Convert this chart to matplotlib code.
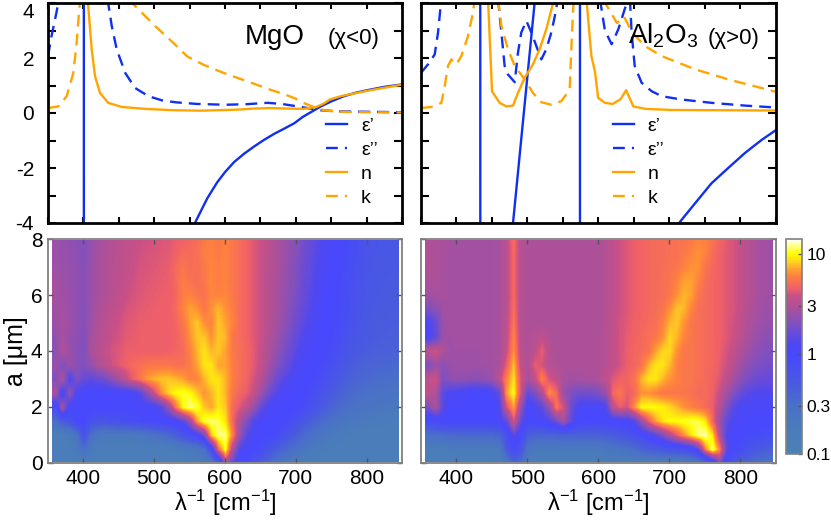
import numpy as np
import matplotlib
matplotlib.use('Agg')
import matplotlib.pyplot as plt
from matplotlib.colors import LinearSegmentedColormap, Normalize
from matplotlib.patches import Rectangle

plt.rcParams['font.family'] = ['Liberation Sans', 'DejaVu Sans']
plt.rcParams['mathtext.fontset'] = 'custom'
plt.rcParams['mathtext.rm'] = 'Liberation Sans'
plt.rcParams['mathtext.it'] = 'Liberation Sans:italic'
plt.rcParams['mathtext.bf'] = 'Liberation Sans:bold'

# ---------------- top panels: optical constants ----------------
mgo_eps1_x = [350, 400.3, 401.0, 450, 520, 558.5, 575, 589, 600, 613, 627, 641, 655, 670, 685, 698, 710, 722, 736, 750, 767, 785, 805, 825, 850]
mgo_eps1_y = [12, 120, -120, -20, -6.5, -3.95, -3.1, -2.52, -2.15, -1.78, -1.48, -1.22, -0.98, -0.75, -0.55, -0.37, -0.14, 0.04, 0.25, 0.42, 0.6, 0.74, 0.85, 0.95, 1.04]
mgo_eps2_x = [350, 355, 362, 365.5, 368, 400, 432, 435, 440, 447, 459, 473, 492, 511, 530, 560, 600, 630, 660, 680, 700, 712, 735, 760, 781, 850]
mgo_eps2_y = [2.07, 2.8, 3.66, 4.15, 5.5, 100, 5, 4.0, 3.17, 2.32, 1.46, 0.91, 0.61, 0.46, 0.39, 0.33, 0.30, 0.32, 0.37, 0.33, 0.25, 0.2, 0.1, 0.06, 0.05, 0.03]
mgo_n_x = [350, 390, 398, 402, 406, 411.7, 416.4, 423.4, 435, 454, 487, 529, 566, 616, 640, 663, 690, 711, 729, 740, 748, 765, 786, 810, 830, 850]
mgo_n_y = [5.6, 8, 15, 15, 4.15, 2.32, 1.34, 0.73, 0.37, 0.22, 0.15, 0.1, 0.085, 0.12, 0.16, 0.18, 0.16, 0.15, 0.22, 0.35, 0.49, 0.62, 0.73, 0.85, 0.94, 1.03]
mgo_k_x = [350, 364.6, 376.4, 385.8, 390.5, 393.8, 396, 400, 430, 463.4, 482, 501, 526.6, 547, 570, 589, 602, 637, 663.5, 684, 700, 710.6, 720, 729, 740, 754, 780, 850]
mgo_k_y = [0.18, 0.24, 0.61, 1.46, 2.56, 3.66, 4.3, 15, 10, 4.15, 3.66, 3.17, 2.56, 2.05, 1.75, 1.55, 1.42, 1.1, 0.85, 0.68, 0.52, 0.37, 0.27, 0.18, 0.1, 0.06, 0.03, 0.02]

al_eps1_x = [350, 432.5, 434.5, 460, 472, 479.6, 510, 518, 545, 573.3, 574.5, 650, 700, 714.7, 735.8, 759, 782.7, 806, 829.7, 850]
al_eps1_y = [20, 150, -150, -20, -6.1, -4.0, 4.0, 6.1, 20, 150, -150, -15, -5.5, -3.96, -3.29, -2.56, -2.0, -1.46, -0.98, -0.62]
al_eps2_x = [350, 359.9, 369.3, 374, 377.7, 380, 420, 455, 458.5, 463.2, 467.8, 472.5, 482, 486.6, 491.3, 498.4, 505.4, 512.4, 519.5, 526.5, 533.6, 540.6, 545, 575, 600, 602, 609, 618.5, 628, 637, 642, 643, 644.3, 646.6, 651, 660.7, 675, 689, 717, 759, 806, 850]
al_eps2_y = [1.46, 1.77, 2.13, 2.93, 3.9, 5, 30, 5, 4.15, 2.93, 1.71, 1.40, 1.12, 2.2, 2.93, 3.35, 2.93, 2.44, 1.95, 2.32, 2.93, 3.78, 5, 30, 5, 4.15, 3.0, 2.5, 3.05, 3.78, 4.15, 4.8, 4.15, 2.93, 1.71, 1.10, 0.79, 0.61, 0.49, 0.37, 0.27, 0.2]
al_n_x = [350, 440, 444.4, 450, 460.8, 470.2, 479.6, 486.6, 496, 507.7, 517.1, 526.5, 536, 540, 580, 583, 590, 595, 599.5, 609, 620, 631, 639, 649, 666, 703, 850]
al_n_y = [6, 10, 4.15, 0.79, 0.37, 0.24, 0.27, 0.73, 1.28, 1.77, 2.32, 3.05, 4.0, 5, 5, 4.15, 2.07, 1.5, 0.55, 0.37, 0.33, 0.5, 0.83, 0.24, 0.15, 0.11, 0.09]
al_k_x = [350, 364.6, 378.7, 383.4, 388, 392.7, 399.8, 406.8, 416.2, 423.3, 425.6, 428, 455, 458.5, 463.2, 472.5, 482, 496, 507.7, 519.5, 533.6, 547.6, 559.4, 561.7, 564, 565.5, 568, 603, 606, 626, 636, 647, 665, 689, 736, 783, 850]
al_k_y = [0.18, 0.22, 0.37, 0.98, 1.71, 1.95, 1.77, 2.07, 2.8, 3.66, 4.15, 5, 5, 4.15, 3.17, 2.32, 1.71, 1.22, 0.73, 0.39, 0.3, 0.43, 0.85, 2.32, 3.66, 4.15, 5, 5, 4.15, 3.27, 3.5, 2.95, 2.44, 2.07, 1.59, 1.22, 0.77]

legend_labels = ['ε’', 'ε’’', 'n', 'k']

# ---------------- bottom panels: map values ----------------
# columns: wavenumber 360..840 step 10 ; rows: a = 0..8 step 0.5
map_x = list(range(360, 841, 10))
map_a = [i * 0.5 for i in range(17)]

mgo_map = [
 [.15,.15,.15,.15,.15,.15,.15,.15,.15,.15, .15,.15,.15,.15,.15,.15,.15,.15,.15,.15, .15,.17,.2,.4,2.5,1.5,.9,.8,.6,.45, .35,.28,.22,.18,.16,.15,.15,.15,.15,.15, .15,.15,.15,.15,.15,.15,.15,.15,.15],
 [.15,.15,.15,.2,.3,.2,.15,.15,.15,.15, .15,.15,.15,.15,.15,.15,.16,.17,.18,.2, .22,.3,.8,5,11,3,1.3,1.1,1.0,.8, .6,.48,.4,.33,.28,.24,.2,.18,.17,.16, .15,.15,.15,.15,.15,.15,.15,.15,.15],
 [.15,.16,.18,.25,.7,.3,.22,.2,.2,.2, .2,.2,.22,.24,.27,.3,.35,.45,.6,.8, 1.0,1.8,8,12,12,6,2.5,1.4,1.1,1.0, 1.0,.9,.7,.55,.45,.35,.3,.25,.22,.2, .18,.17,.16,.15,.15,.15,.15,.15,.15],
 [.3,.5,.6,1.0,1.0,.7,.6,.6,.65,.7, .75,.8,.85,.9,.95,1.0,1.0,1.1,1.4,2.5, 7,11,12,11,9,5,3,2,1.3,1.1, 1.0,1.0,.95,.85,.7,.55,.45,.38,.32,.28, .25,.23,.21,.2,.19,.18,.17,.17,.16],
 [.8,3,1.0,.9,1.0,1.0,1.0,1.0,1.0,1.0, 1.0,1.0,1.0,1.05,1.1,1.4,2.5,5.5,10,12, 11,8,7,9,8,5,4.2,3.5,2.5,1.6, 1.2,1.05,1.0,1.0,.95,.85,.7,.58,.48,.4, .35,.31,.28,.26,.25,.24,.23,.22,.21],
 [3,1.0,2.5,1.2,1.0,1.0,1.0,1.0,1.0,1.0, 1.05,1.1,1.4,2.3,3.8,6.5,8.5,10,10.5,10, 8,6.5,7.5,9,7.5,5.5,4.8,4.4,3.6,2.6, 1.8,1.4,1.15,1.05,1.0,.95,.85,.72,.6,.5, .43,.38,.34,.31,.29,.28,.27,.26,.25],
 [2,3,1.2,2,1.6,1.5,1.6,1.8,2.2,2.8, 3.6,4.5,5.5,6.8,7.5,8,8,7.5,7,6, 6,7.5,9,9,7.5,5.8,5.2,4.7,4.0,3.2, 2.4,1.8,1.45,1.25,1.1,1.0,.95,.85,.72,.6, .52,.46,.41,.38,.36,.34,.33,.32,.31],
 [2.5,2,2.5,2.2,2,2.4,2.9,3.4,3.9,4.3, 4.6,5,5.2,5.5,5.5,5.5,5.5,5.3,5.3,5.8, 7,9,9,7,7,5.8,5.2,4.8,4.3,3.6, 2.8,2.2,1.8,1.5,1.25,1.1,1.0,.95,.85,.72, .62,.54,.48,.44,.41,.39,.38,.37,.36],
 [2.2,3,2.5,2.2,2,2.8,3.2,3.6,4,4.2, 4.5,4.5,4.5,4.5,4.5,4.5,4.6,4.8,5,6, 7.5,9,7.5,8,7,5.6,5.2,4.8,4.3,3.7, 3,2.5,2,1.7,1.4,1.2,1.1,1.0,.95,.85, .72,.62,.55,.5,.47,.45,.44,.43,.42],
 [2.3,2.8,2.4,2.2,2.05,2.7,3.1,3.4,3.8,4, 4.3,4.4,4.5,4.5,4.5,4.5,4.5,4.7,5.2,6.5, 8,8,6.5,8,7.5,5.5,5.1,4.7,4.2,3.8, 3.1,2.7,2.2,1.85,1.55,1.3,1.15,1.05,1.0,.9, .78,.68,.6,.55,.51,.49,.47,.46,.45],
 [2.5,2.8,2.5,2.3,2.1,2.6,3,3.3,3.6,3.9, 4.2,4.3,4.5,4.5,4.5,4.5,4.5,4.8,5.5,7, 8,6.5,6,8,7,6,5.1,4.7,4.2,3.8, 3.2,2.8,2.4,2,1.7,1.45,1.25,1.1,1.0,.95, .85,.75,.65,.58,.53,.5,.49,.48,.47],
 [2.6,2.7,2.5,2.3,2.1,2.5,2.9,3.2,3.4,3.7, 4,4.2,4.3,4.4,4.5,4.5,4.5,5,6,7, 6.5,5.5,6.5,7.5,6.5,5.8,5.1,4.7,4.2,3.8, 3.3,2.9,2.5,2.1,1.8,1.55,1.35,1.15,1.05,.98, .88,.78,.68,.6,.55,.52,.5,.49,.48],
 [2.8,2.6,2.5,2.3,2.1,2.5,2.8,3,3.3,3.5, 3.8,4,4.2,4.3,4.4,4.5,4.5,4.8,5.8,6, 5.5,5.3,6.2,6,6.2,5.5,5.1,4.7,4.2,3.8, 3.3,2.9,2.5,2.2,1.9,1.6,1.4,1.2,1.05,1.0, .9,.8,.7,.62,.57,.54,.52,.51,.5],
 [2.7,2.55,2.45,2.3,2.1,2.5,2.8,3,3.25,3.45, 3.7,3.9,4.1,4.2,4.3,4.4,4.5,5,5.8,5.3, 5.2,5.5,6.2,5.8,6,5.5,5.1,4.7,4.2,3.8, 3.3,2.95,2.55,2.25,1.95,1.65,1.45,1.25,1.1,1.02, .92,.82,.72,.64,.58,.55,.53,.52,.51],
 [2.6,2.5,2.4,2.3,2.1,2.5,2.8,3,3.2,3.4, 3.6,3.8,4,4.1,4.2,4.3,4.4,5,5.5,5.1, 5.2,5.6,6.2,5.8,6,5.5,5.1,4.7,4.2,3.8, 3.3,3,2.6,2.3,2,1.7,1.5,1.3,1.15,1.05, .95,.85,.75,.67,.6,.57,.55,.54,.53],
 [2.55,2.45,2.35,2.25,2.05,2.45,2.75,2.95,3.15,3.35, 3.55,3.7,3.9,4,4.1,4.2,4.3,4.6,5,5, 5.2,5.8,6,5.6,6,5.5,5.1,4.7,4.2,3.8, 3.35,3,2.65,2.35,2.05,1.75,1.55,1.35,1.18,1.08, .98,.88,.78,.69,.62,.58,.56,.55,.54],
 [2.5,2.4,2.3,2.2,2.0,2.4,2.7,2.9,3.1,3.3, 3.5,3.6,3.8,3.9,4,4.1,4.2,4.4,4.6,4.8, 5.1,5.6,6,5.5,6,5.5,5.1,4.7,4.2,3.8, 3.4,3.0,2.7,2.4,2.1,1.8,1.6,1.4,1.2,1.1, 1.0,.9,.8,.7,.63,.6,.57,.56,.55],
]

al_map = [
 [.15,.15,.15,.15,.15,.15,.15,.15,.15,.15, .15,.2,.4,.3,.17,.15,.15,.15,.15,.15, .15,.15,.15,.15,.15,.15,.15,.15,.15,.15, .15,.15,.15,.15,.15,.16,.17,.18,.2,.3, .6,2,.7,.5,.4,.35,.3,.28,.26],
 [.16,.16,.16,.17,.18,.18,.18,.18,.18,.18, .2,.5,.9,.6,.25,.2,.2,.2,.2,.2, .2,.2,.2,.2,.2,.22,.24,.26,.28,.32, .4,.45,.5,.55,.6,.65,.7,.85,1.5,6, 12,6,1.5,1.0,.8,.65,.55,.5,.45],
 [.3,.3,.32,.35,.35,.35,.35,.35,.35,.35, .4,.7,1.5,.9,.45,.4,.4,.4,.4,.42, .42,.42,.42,.42,.43,.45,.5,.55,.6,.7, .9,1.1,1.4,2,3,4.5,6.5,9,12,13, 9,3,1.3,1.0,.95,.9,.85,.8,.75],
 [.8,.9,1.0,1.0,1.0,1.0,1.0,1.0,1.0,1.0, 1.1,1.6,4,1.6,1.0,1.0,1.1,1.3,1.8,2.8, 1.6,1.0,.95,.95,.95,1.0,1.0,1.05,1.1,1.4, 2.5,4.5,7,9,10,10,10.5,11,11,9, 5,2.5,1.5,1.2,1.1,1.05,1.0,1.0,1.0],
 [2,3,1.5,1.0,1.0,1.0,1.0,1.0,1.0,1.0, 1.3,4,7,2.5,1.0,1.2,1.5,2.5,5.5,4, 1.8,1.2,1.1,1.1,1.1,1.3,3.5,4.5,4,6.5, 10,10,10,9.5,8.5,7.5,6.5,6,5.5,5, 4.5,3.2,2,1.4,1.2,1.15,1.1,1.1,1.1],
 [3.5,3,1.5,1.2,1.2,1.1,1.0,1.0,1.0,1.1, 1.6,7,10,4,1.5,2,3,6.5,5,2.5, 2,1.8,1.8,1.8,2,2.5,5,5.5,4.5,5, 6.5,6.5,6,5.5,5.5,5.5,5.5,5.3,5,5, 4.6,3.7,2.7,2,1.6,1.4,1.3,1.3,1.3],
 [3.5,4,2,2.2,2.3,2.3,2.2,2.2,2.3,2.5, 3.5,6,9,4,2.8,3.5,6,4,3.5,2.8, 2.7,2.7,2.8,2.8,3,3.5,4.2,4.6,4.8,5.3, 7.5,9,9,7.5,6.5,6,5.5,5.5,5.2,5, 4.7,4.2,3.4,2.7,2.2,1.9,1.7,1.6,1.6],
 [2,2.5,2.2,2.5,2.6,2.6,2.6,2.6,2.6,2.7, 2.9,4.5,8,3.5,3,4.5,4,3.2,3,2.9, 2.9,2.9,2.9,2.9,3,3.2,3.6,4,4.5,4.8, 5.3,7.5,9,9,7.5,6,5.5,5.5,5.2,5, 4.8,4.4,3.8,3.2,2.6,2.2,2.0,1.9,1.8],
 [3.5,4,3,2.6,2.6,2.6,2.6,2.6,2.7,2.7, 2.8,3.8,6.5,3.3,3,3.5,4.5,3.2,2.9,2.9, 2.9,2.9,2.9,2.9,3,3.2,3.6,4,4.5,4.8, 5,5.3,7,8.5,8.5,6.5,5.5,5.5,5.2,5, 4.8,4.5,4,3.5,3,2.6,2.3,2.1,2.0],
 [1.2,1.5,2.5,2.6,2.7,2.7,2.7,2.7,2.7,2.7, 2.8,3.5,6,3.2,3,3.2,3.5,3,2.9,2.9, 2.9,2.9,2.9,2.9,3,3.2,3.6,4,4.4,4.7, 4.9,5.2,5.5,6.5,8.5,7.5,6,5.5,5.2,5, 4.8,4.6,4.2,3.8,3.3,2.8,2.5,2.3,2.2],
 [1.2,1.6,2.5,2.7,2.7,2.7,2.7,2.7,2.7,2.7, 2.8,3.5,5.5,3.2,2.9,2.9,2.9,2.9,2.9,2.9, 2.9,2.9,2.9,2.9,2.9,3.2,3.6,4,4.3,4.6, 4.8,5,5.2,6,7.5,8,6.5,5.5,5.2,5, 4.8,4.6,4.2,3.9,3.5,3,2.7,2.5,2.4],
 [2,2.2,2.6,2.7,2.7,2.7,2.7,2.7,2.7,2.7, 2.8,3.4,5.2,3.2,2.9,2.9,2.9,2.9,2.9,2.9, 2.9,2.9,2.9,2.9,2.9,3.2,3.5,3.9,4.2,4.5, 4.7,4.9,5.1,5.4,6.5,8,7.5,6,5.2,5, 4.8,4.6,4.2,4,3.6,3.1,2.8,2.6,2.5],
 [2.7,2.8,2.8,2.7,2.7,2.7,2.7,2.7,2.7,2.7, 2.8,3.4,5,3.2,2.9,2.9,2.9,2.9,2.9,2.9, 2.9,2.9,2.9,2.9,2.9,3.1,3.5,3.9,4.2,4.5, 4.7,4.9,5,5.2,5.5,6.5,7.5,7,5.5,5, 4.8,4.6,4.2,4,3.6,3.2,2.9,2.7,2.6],
 [2.9,2.9,2.8,2.7,2.7,2.7,2.7,2.7,2.7,2.7, 2.8,3.4,5,3.2,2.9,2.9,2.9,2.9,2.9,2.9, 2.9,2.9,2.9,2.9,2.9,3.1,3.5,3.9,4.2,4.5, 4.7,4.9,5,5.2,5.4,6,7,7,6,5.1, 4.8,4.6,4.2,4,3.6,3.2,2.9,2.7,2.6],
 [3,2.9,2.8,2.7,2.7,2.7,2.7,2.7,2.7,2.7, 2.8,3.4,5,3.2,2.9,2.9,2.9,2.9,2.9,2.9, 2.9,2.9,2.9,2.9,2.9,3.1,3.5,3.9,4.2,4.5, 4.7,4.9,5,5.1,5.3,5.5,6,6.5,6.5,5.4, 4.9,4.6,4.2,4,3.6,3.2,2.9,2.7,2.6],
 [3,2.9,2.8,2.7,2.7,2.7,2.7,2.7,2.7,2.7, 2.8,3.4,5,3.2,2.9,2.9,2.9,2.9,2.9,2.9, 2.9,2.9,2.9,2.9,2.9,3.1,3.5,3.9,4.2,4.5, 4.7,4.9,5,5.1,5.2,5.3,5.6,6,6.5,6, 5.1,4.6,4.2,4,3.6,3.2,2.9,2.7,2.6],
 [3,2.9,2.8,2.7,2.7,2.7,2.7,2.7,2.7,2.7, 2.8,3.4,5.2,3.2,2.9,2.9,2.9,2.9,2.9,2.9, 2.9,2.9,2.9,2.9,2.9,3.1,3.5,3.9,4.2,4.5, 4.7,4.9,5,5.1,5.2,5.3,5.4,5.6,6,6, 5.4,4.8,4.3,4,3.6,3.2,2.9,2.7,2.6],
]

cbar_ticks = [0.1, 0.3, 1, 3, 10]
cbar_labels = ['0.1', '0.3', '1', '3', '10']
cbar_min, cbar_max = 0.1, 14.0

for m in (mgo_map, al_map):
    assert len(m) == len(map_a)
    for r in m:
        assert len(r) == len(map_x), len(r)

# ---------------- colours ----------------
BLUE = '#1030f0'
ORANGE = '#ffa500'
pal_vals = [0.1, 0.18, 0.3, 0.5, 1.0, 1.3, 2.0, 3.0, 3.8, 4.6, 6.0, 7.0, 8.3, 10.0, 12.5, 14.0]
pal_cols = ['#4a82b4', '#4a7cbc', '#4a70c8', '#4a5ae0', '#4848ff', '#5048f0', '#8050c0', '#b05098',
            '#c85088', '#f06068', '#ff8040', '#ffa030', '#ffd020', '#ffff00', '#ffffa0', '#ffffff']
lo, hi = np.log10(cbar_min), np.log10(cbar_max)
cmap = LinearSegmentedColormap.from_list(
    'gp', [((np.log10(v) - lo) / (hi - lo), c) for v, c in zip(pal_vals, pal_cols)])

# ---------------- figure ----------------
W, H = 831, 521
fig = plt.figure(figsize=(W / 100, H / 100), dpi=100)

def box(x0, x1, y0, y1):
    return [x0 / W, 1 - y1 / H, (x1 - x0) / W, (y1 - y0) / H]

ax_tl = fig.add_axes(box(48, 402, 3, 223))
ax_tr = fig.add_axes(box(421, 776, 3, 223))
ax_bl = fig.add_axes(box(48, 402, 239, 463))
ax_br = fig.add_axes(box(421, 776, 239, 463))
cax = fig.add_axes(box(786, 802, 239, 454))

LW = 1.7
DASH = (5, 3)

def top_panel(ax, e1x, e1y, e2x, e2y, nx, ny, kx, ky, leg_x):
    h1, = ax.plot(e1x, e1y, color=BLUE, lw=LW)
    h2, = ax.plot(e2x, e2y, color=BLUE, lw=LW, dashes=DASH)
    h3, = ax.plot(nx, ny, color=ORANGE, lw=LW)
    h4, = ax.plot(kx, ky, color=ORANGE, lw=LW, dashes=DASH)
    ax.set_xlim(350, 850)
    ax.set_ylim(-4, 4)
    ax.set_xticks(np.arange(350, 851, 50))
    ax.set_xticklabels([])
    ax.set_yticks(np.arange(-4, 5, 1))
    for s in ax.spines.values():
        s.set_linewidth(2.0)
    ax.tick_params(axis='both', direction='in', top=True, right=True, width=1.5)
    ax.tick_params(axis='y', length=6, labelsize=15, pad=10)
    ax.tick_params(axis='x', length=4.5)
    leg = ax.legend([h1, h2, h3, h4], legend_labels, loc='upper left',
                    bbox_to_anchor=(leg_x, 0.48), frameon=False, fontsize=14,
                    handlelength=1.1, handletextpad=0.7, labelspacing=0.33,
                    borderaxespad=0, borderpad=0)
    return leg

top_panel(ax_tl, mgo_eps1_x, mgo_eps1_y, mgo_eps2_x, mgo_eps2_y, mgo_n_x, mgo_n_y, mgo_k_x, mgo_k_y, 0.785)
top_panel(ax_tr, al_eps1_x, al_eps1_y, al_eps2_x, al_eps2_y, al_n_x, al_n_y, al_k_x, al_k_y, 0.54)
ax_tl.set_yticklabels(['-4', '', '-2', '', '0', '', '2', '', '4'])
ax_tr.set_yticklabels([])
# keep the top "4" label inside the canvas, as in the reference
ax_tl.get_yticklabels()[-1].set_va('top')
ax_tl.get_yticklabels()[-1].set_y(4)

ax_tl.text(0.556, 0.815, 'MgO', transform=ax_tl.transAxes, fontsize=20, ha='left', va='baseline')
ax_tl.text(0.79, 0.815, '(χ<0)', transform=ax_tl.transAxes, fontsize=16, ha='left', va='baseline')
ax_tr.text(0.583, 0.815, 'Al$_2$O$_3$', transform=ax_tr.transAxes, fontsize=20, ha='left', va='baseline')
ax_tr.text(0.808, 0.815, '(χ>0)', transform=ax_tr.transAxes, fontsize=16, ha='left', va='baseline')

norm = Normalize(vmin=lo, vmax=hi)
dx = map_x[1] - map_x[0]
da = map_a[1] - map_a[0]
extent = (map_x[0] - dx / 2, map_x[-1] + dx / 2, map_a[0] - da / 2, map_a[-1] + da / 2)

GRAY = '#808080'
for ax, data in ((ax_bl, mgo_map), (ax_br, al_map)):
    im = ax.imshow(np.log10(np.array(data)), origin='lower', extent=extent, aspect='auto',
                   cmap=cmap, norm=norm, interpolation='bilinear', interpolation_stage='data')
    clip = Rectangle((map_x[0] - dx / 2, 0.05), map_x[-1] - map_x[0] + dx, 7.9,
                     transform=ax.transData, facecolor='none', edgecolor='none')
    ax.add_patch(clip)
    im.set_clip_path(clip)
    ax.set_xlim(350, 850)
    ax.set_ylim(0, 8)
    ax.set_xticks([400, 500, 600, 700, 800])
    ax.set_yticks([0, 2, 4, 6, 8])
    for s in ax.spines.values():
        s.set_linewidth(1.3)
        s.set_color(GRAY)
    ax.tick_params(axis='both', direction='in', top=True, right=True, length=3.5,
                   width=1.0, color='#555555', labelsize=15)
    ax.tick_params(axis='x', pad=4)
    ax.tick_params(axis='y', pad=4)
    ax.set_xlabel('λ$^{-1}$ [cm$^{-1}$]', fontsize=17, labelpad=0)

ax_bl.set_ylabel('a [μm]', fontsize=18, labelpad=2)
ax_br.set_yticklabels([])

cb = fig.colorbar(im, cax=cax)
cb.set_ticks(np.log10(cbar_ticks))
cb.set_ticklabels(cbar_labels)
cb.outline.set_edgecolor(GRAY)
cb.outline.set_linewidth(1.2)
cax.tick_params(direction='in', length=3, width=1.0, color='#555555', labelsize=12.5, pad=3)

fig.savefig('out.png', dpi=100)
